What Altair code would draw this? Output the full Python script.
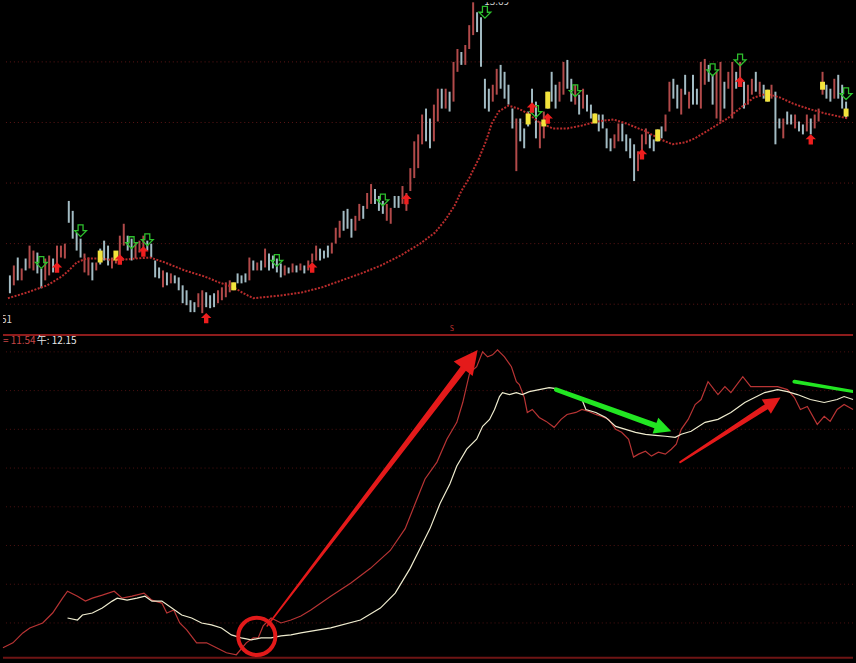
import math
import altair as alt
import pandas as pd

W = 856
TOP_H = 333
BOT_H = 330
N = 214

# ---------------- price panel ----------------
HIGH = [
    10.94, 11.04, 11.12, 11.01, 11.11, 11.24, 11.19, 11.17, 11.01, 11.11,
    11.14, 11.11, 11.24, 11.24, 11.26, 11.69, 11.59, 11.37, 11.31, 11.16,
    11.12, 11.07, 11.07, 11.21, 11.29, 11.24, 11.12, 11.17, 11.34, 11.46,
    11.34, 11.31, 11.27, 11.29, 11.34, 11.29, 11.26, 11.09, 11.02, 10.99,
    10.97, 10.96, 10.94, 10.92, 10.84, 10.79, 10.69, 10.67, 10.76, 10.79,
    10.77, 10.74, 10.76, 10.79, 10.82, 10.87, 10.89, 10.87, 10.96, 10.94,
    10.96, 11.12, 11.09, 11.07, 11.09, 11.21, 11.16, 11.14, 11.11, 11.06,
    11.04, 11.02, 11.06, 11.04, 11.06, 11.04, 11.09, 11.16, 11.24, 11.21,
    11.19, 11.24, 11.27, 11.42, 11.49, 11.59, 11.61, 11.51, 11.54, 11.66,
    11.64, 11.77, 11.86, 11.81, 11.74, 11.69, 11.66, 11.62, 11.74, 11.74,
    11.84, 11.77, 12.02, 12.29, 12.36, 12.56, 12.62, 12.52, 12.66, 12.82,
    12.82, 12.82, 12.79, 13.09, 13.22, 13.19, 13.26, 13.46, 13.69, 13.59,
    13.54, 12.92, 12.82, 12.86, 13.02, 13.06, 12.99, 12.86, 12.62, 12.52,
    12.52, 12.42, 12.59, 12.82, 12.69, 12.49, 12.59, 12.79, 12.99, 12.86,
    12.89, 13.09, 13.11, 12.92, 12.86, 12.76, 12.82, 12.76, 12.66, 12.57,
    12.56, 12.56, 12.42, 12.32, 12.36, 12.47, 12.47, 12.36, 12.32, 12.26,
    12.19, 12.36, 12.42, 12.36, 12.31, 12.41, 12.44, 12.56, 12.89, 12.92,
    12.86, 12.82, 12.96, 12.79, 12.96, 12.82, 13.09, 13.12, 13.06, 12.96,
    12.99, 13.09, 12.89, 12.99, 13.09, 12.99, 13.09, 12.89, 12.86, 12.92,
    12.99, 12.89, 12.86, 12.81, 12.86, 12.79, 12.52, 12.52, 12.59, 12.56,
    12.56, 12.49, 12.46, 12.56, 12.52, 12.56, 12.62, 12.99, 12.86, 12.82,
    12.92, 12.96, 12.86, 12.69,
]
LOW = [
    10.76, 10.84, 10.89, 10.89, 10.99, 11.01, 10.99, 10.96, 10.81, 10.89,
    10.94, 10.97, 11.06, 11.12, 11.11, 11.47, 11.31, 11.19, 11.12, 10.97,
    10.94, 10.89, 10.99, 11.05, 11.09, 11.04, 11.01, 11.06, 11.11, 11.24,
    11.19, 11.09, 11.11, 11.17, 11.19, 11.19, 11.12, 10.92, 10.91, 10.82,
    10.84, 10.86, 10.86, 10.79, 10.66, 10.64, 10.57, 10.57, 10.62, 10.56,
    10.62, 10.61, 10.62, 10.66, 10.69, 10.72, 10.77, 10.79, 10.86, 10.86,
    10.87, 10.89, 10.99, 10.99, 10.99, 11.02, 10.99, 11.01, 10.97, 10.92,
    10.94, 10.96, 10.97, 10.97, 10.99, 10.96, 10.99, 11.07, 11.09, 11.09,
    11.11, 11.12, 11.16, 11.26, 11.32, 11.39, 11.41, 11.32, 11.39, 11.49,
    11.51, 11.61, 11.66, 11.66, 11.59, 11.56, 11.49, 11.46, 11.62, 11.62,
    11.66, 11.59, 11.79, 11.92, 12.02, 12.26, 12.29, 12.22, 12.29, 12.49,
    12.62, 12.62, 12.59, 12.69, 12.99, 13.06, 13.06, 13.22, 13.36, 13.39,
    13.04, 12.62, 12.59, 12.69, 12.76, 12.82, 12.72, 12.66, 12.42, 11.99,
    12.29, 12.22, 12.44, 12.59, 12.32, 12.22, 12.32, 12.62, 12.69, 12.62,
    12.69, 12.76, 12.82, 12.69, 12.66, 12.56, 12.62, 12.59, 12.52, 12.49,
    12.39, 12.42, 12.22, 12.19, 12.22, 12.29, 12.29, 12.19, 12.12, 11.89,
    11.99, 12.12, 12.26, 12.22, 12.19, 12.29, 12.32, 12.39, 12.59, 12.72,
    12.62, 12.56, 12.76, 12.62, 12.66, 12.66, 12.62, 12.86, 12.89, 12.66,
    12.52, 12.49, 12.62, 12.82, 12.52, 12.82, 12.92, 12.62, 12.66, 12.76,
    12.79, 12.76, 12.72, 12.69, 12.72, 12.26, 12.42, 12.32, 12.46, 12.46,
    12.42, 12.39, 12.36, 12.39, 12.36, 12.42, 12.49, 12.76, 12.72, 12.69,
    12.72, 12.72, 12.62, 12.52,
]
# r = rising session, c = falling session
SIDE = (
    "crcrcrrccr" "rcrrrccccr" "rcrcccrrrr" "ccrrrccccr" "crccccccrr"
    "cccrrrrrcc" "crcrcrcccc" "rcrcrcrrrc" "ccrrrcccrr" "crrcccrrcc"
    "rrrrrrccrr" "crcrrcrrrc" "cccrrccccr" "cccccrrccc" "rrccrcrccc"
    "ccccrrcccc" "rrrccccrrc" "crcrccrrcc" "rrcrrcrcrr" "crccrccrcc"
    "rccrcrrrcc" "rccc"
)

# highlighted (yellow) bodies
YEL_IDX = [23, 27, 57, 132, 136, 137, 149, 165, 193, 207, 213]
YEL_TOP = [11.19, 11.19, 10.87, 12.57, 12.51, 12.79, 12.57, 12.41, 12.81, 12.89, 12.62]
YEL_BOT = [11.07, 11.09, 10.79, 12.46, 12.44, 12.62, 12.47, 12.29, 12.69, 12.81, 12.54]

# moving average (dotted)
MA_X = [-0.5, 4.5, 9.5, 13.25, 15, 17, 19.5, 23.25, 27, 32, 35.75, 39.5, 44.5,
        49.5, 53.25, 57, 59.5, 62, 64.5, 69.5, 74.5, 79.5, 84.5, 89.5, 94.5,
        99.5, 104.5, 108.25, 110.75, 113.25, 115, 117, 119.5, 121.25, 122.75,
        124.5, 127, 129.5, 132, 134.5, 138.25, 142, 145.75, 149.5, 153.75, 157,
        162, 165.75, 168.75, 172, 174.5, 178.25, 182.75, 186.5, 189.5, 192.75,
        196.25, 199.5, 203.25, 207.75, 213.5]
MA_P = [10.71, 10.77, 10.84, 10.93, 10.99, 11.07, 11.11, 11.11, 11.09, 11.11,
        11.12, 11.07, 10.99, 10.93, 10.87, 10.82, 10.76, 10.71, 10.72, 10.74,
        10.77, 10.82, 10.89, 10.96, 11.04, 11.14, 11.26, 11.37, 11.49, 11.64,
        11.79, 11.92, 12.12, 12.29, 12.47, 12.59, 12.65, 12.62, 12.57, 12.49,
        12.42, 12.42, 12.45, 12.49, 12.51, 12.47, 12.39, 12.31, 12.26, 12.28,
        12.32, 12.41, 12.52, 12.64, 12.73, 12.77, 12.73, 12.67, 12.62, 12.57,
        12.52]

# signal markers
DOWN_IDX = [8, 18, 31, 35, 68, 95, 121, 134, 144, 179, 186, 213]
DOWN_P = [11.07, 11.39, 11.27, 11.30, 11.09, 11.70, 13.59, 12.59, 12.80, 13.01, 13.11, 12.77]
UP_IDX = [12, 28, 34, 50, 77, 101, 133, 137, 161, 186, 204]
UP_P = [11.02, 11.10, 11.18, 10.51, 11.02, 11.71, 12.63, 12.52, 12.16, 12.89, 12.31]

PRICE_GRID = [13.09, 12.48, 11.87, 11.26, 10.65]
LOW_LEVEL = 10.51

# ---------------- indicator panel ----------------
RED_X = [-0.5, 2, 4.5, 6.25, 9.5, 12, 14.5, 15.75, 18.25, 20.25, 22, 24.5, 27.5,
         29.5, 32, 35, 37, 39.5, 40.75, 42.5, 44, 45.75, 48.25, 50.75, 53.25,
         55.75, 58.25, 60.75, 62.5, 63.75, 65, 67, 69.5, 72, 74.5, 77, 82, 87,
         92, 97, 100.75, 103.25, 105.75, 108.75, 111.25, 113.75, 115.25, 117,
         118.75, 120.25, 121.5, 122.75, 124, 125.75, 127.5, 128.75, 129.5,
         130.75, 131.5, 132.75, 134.5, 136.25, 138.25, 140, 141.5, 143.75,
         145.25, 147, 148.75, 150.25, 152, 153.75, 155.25, 157, 158.25, 159.5,
         161.25, 162.75, 164.5, 166.25, 167.75, 169, 170.25, 172, 173.75,
         175.25, 177, 179.5, 181.25, 182.75, 185.75, 187.75, 191.25, 194.5,
         197, 198.75, 200.25, 202, 204.5, 206.25, 207.75, 209.5, 211.25, 213.5]
RED_V = [1.3, 1.8, 2.8, 3.3, 3.8, 4.8, 6.3, 7.0, 6.5, 6.0, 6.3, 6.6, 7.0,
         6.3, 6.5, 6.8, 6.1, 5.8, 4.8, 5.1, 3.8, 3.1, 1.8, 1.8, 1.3,
         0.8, 0.6, 1.8, 2.3, 2.3, 3.5, 4.3, 3.8, 4.1, 4.5, 5.1, 6.5, 7.8,
         9.3, 11.1, 13.3, 15.8, 18.3, 20.0, 22.3, 24.0, 26.0, 29.0,
         29.6, 31.1, 30.6, 30.8, 31.3, 30.6, 29.6, 28.1, 27.8,
         26.5, 25.0, 25.3, 24.5, 24.1, 23.5, 24.3, 24.8, 25.0,
         25.3, 25.1, 24.8, 24.6, 24.3, 23.3, 23.0, 22.3, 20.5, 20.8,
         21.1, 20.6, 21.0, 20.8, 21.3, 21.8, 23.3, 24.3, 25.8,
         26.3, 28.1, 26.8, 27.6, 27.0, 28.6, 27.6, 27.6, 27.6,
         27.3, 26.5, 25.3, 25.6, 23.8, 24.6, 24.1, 25.3, 25.8, 25.3]
WHT_X = [15.75, 18.25, 19.5, 22, 24.5, 27, 28.25, 30.75, 33.25, 35.25, 37, 39.5,
         42, 44.5, 47, 49.5, 52, 54.5, 57, 59.5, 62, 64.5, 67, 69.5, 72, 74.5,
         82, 89.5, 94.5, 98.25, 102, 104.5, 107, 109.5, 112, 113.75, 116.25,
         118.75, 120.25, 122, 123.25, 124.5, 125.25, 127, 128.75, 130.25, 132,
         134.5, 137, 138.75, 141.25, 143.75, 145.25, 146.25, 148.75, 151.25,
         153.75, 156.25, 158.75, 161.25, 163.75, 166.25, 168.75, 170.25,
         172.75, 176.25, 179.5, 182.75, 186.25, 188.75, 191.25, 194.5, 197,
         199.5, 202.75, 206.25, 209.5, 211.25, 213.5]
WHT_V = [4.3, 4.1, 4.6, 4.8, 5.3, 6.0, 6.3, 6.1, 6.3, 6.5, 6.0, 6.0,
         5.3, 4.6, 4.3, 3.8, 3.6, 3.3, 2.6, 2.3, 2.1, 2.3, 2.3, 2.5, 2.6, 2.8,
         3.3, 4.1, 5.3, 6.8, 9.3, 11.3, 13.3, 15.8, 17.8, 19.6, 21.3,
         22.3, 23.6, 24.3, 25.3, 26.6, 27.0, 26.8, 27.0, 26.8, 27.1,
         27.3, 27.5, 27.4, 27.0, 26.5, 26.3, 25.3, 25.0, 24.5,
         23.6, 23.3, 23.0, 22.8, 22.7, 22.6, 22.5, 22.8,
         23.1, 24.0, 24.3, 25.0, 26.0, 26.5, 27.0, 27.3, 27.1,
         26.8, 26.3, 26.0, 26.3, 26.6, 26.3]
IND_GRID = [31.1, 27.2, 23.3, 19.4, 15.5, 11.6, 7.7, 3.8]

# hand-drawn arrows (start -> tip), widths in px, head length in px
ARROW_ID = ["a1", "a2", "a3", "a4"]
ARROW_X0 = [66.0, 138.75, 170.0, 198.75]
ARROW_V0 = [3.5, 27.3, 20.0, 28.1]
ARROW_X1 = [119.0, 167.75, 195.25, 213.5]
ARROW_V1 = [31.3, 23.1, 26.5, 27.1]
ARROW_W0 = [1.5, 4.5, 2.0, 4.0]
ARROW_W1 = [7.0, 6.0, 6.0, 3.0]
ARROW_HEAD = [24, 17, 17, 0]
ARROW_COLOR = ["#e41a1a", "#22e622", "#e41a1a", "#22e622"]
CIRCLE_X = [63.4]
CIRCLE_V = [2.45]

# ---------------- helpers ----------------
xs = alt.Scale(domain=[-0.5, N - 0.5], nice=False, zero=False)
ps = alt.Scale(domain=[10.36, 13.69], nice=False, zero=False)
vs = alt.Scale(domain=[0, 33], nice=False, zero=False)
FONT = "Noto Sans CJK SC"

DOWN_PATH = "M-0.42,-1L0.42,-1L0.42,0L1,0L0,1L-1,0L-0.42,0Z"
UP_PATH = "M-0.42,1L0.42,1L0.42,0L1,0L0,-1L-1,0L-0.42,0Z"
HEAD_PATH = "M0,-1L0.75,0.5L-0.75,0.5Z"


def X(field):
    return alt.X(field, type="quantitative", scale=xs, axis=None)


def P(field):
    return alt.Y(field, type="quantitative", scale=ps, axis=None)


def V(field):
    return alt.Y(field, type="quantitative", scale=vs, axis=None)


candles = pd.DataFrame({"idx": range(N), "high": HIGH, "low": LOW, "side": list(SIDE)})
yellow = pd.DataFrame({"idx": YEL_IDX, "top": YEL_TOP, "bot": YEL_BOT})
ma = pd.DataFrame({"idx": MA_X, "p": MA_P})
downs = pd.DataFrame({"idx": DOWN_IDX, "p": DOWN_P})
ups = pd.DataFrame({"idx": UP_IDX, "p": UP_P})
pgrid = pd.DataFrame({"p": PRICE_GRID})

top_layers = [
    alt.Chart(pgrid).mark_rule(color="#5e1616", strokeDash=[1, 3], strokeWidth=1).encode(y=P("p")),
    alt.Chart(candles).mark_bar(size=2).encode(
        x=X("idx"), y=P("low"), y2="high",
        color=alt.Color("side:N", scale=alt.Scale(domain=["r", "c"], range=["#b24a4a", "#a3bcc4"]), legend=None),
    ),
    alt.Chart(ma).mark_line(color="#b82c2c", strokeWidth=2, strokeDash=[2, 1.5]).encode(x=X("idx"), y=P("p")),
    alt.Chart(yellow).mark_bar(size=5, color="#f3e43c").encode(x=X("idx"), y=P("bot"), y2="top"),
    alt.Chart(downs).mark_point(shape=DOWN_PATH, filled=False, color="#2ec02e", strokeWidth=1.3, size=140, opacity=1).encode(
        x=X("idx"), y=P("p")),
    alt.Chart(ups).mark_point(shape=UP_PATH, filled=True, color="#ee1e1e", size=110, opacity=1).encode(
        x=X("idx"), y=P("p")),
    alt.Chart(pd.DataFrame({"idx": [124], "p": [max(HIGH)], "t": [f"{max(HIGH):.2f}"]})).mark_text(
        clip=True, align="center", baseline="bottom", dy=5, fontSize=10, color="#d8d8d8", font=FONT
    ).encode(x=X("idx"), y=P("p"), text="t:N"),
    alt.Chart(pd.DataFrame({"p": [LOW_LEVEL], "t": [f"{LOW_LEVEL:.2f}"]})).mark_text(
        clip=True, align="right", baseline="middle", dy=2, fontSize=10, color="#d8d8d8", font=FONT
    ).encode(x=alt.value(9), y=P("p"), text="t:N"),
    alt.Chart(pd.DataFrame({"p": [10.37]})).mark_text(
        text="S", fontSize=7, color="#c03030", baseline="bottom", font=FONT
    ).encode(x=alt.value(452), y=P("p")),
]
top = alt.layer(*top_layers).properties(width=W, height=TOP_H)

# arrow geometry in pixel space (for head orientation)
PX_X = W / N
PX_V = BOT_H / 33.0
trail_rows, head_rows = [], []
for aid, x0, v0, x1, v1, w0, w1, hl, col in zip(
        ARROW_ID, ARROW_X0, ARROW_V0, ARROW_X1, ARROW_V1, ARROW_W0, ARROW_W1, ARROW_HEAD, ARROW_COLOR):
    dx = (x1 - x0) * PX_X
    dy = -(v1 - v0) * PX_V
    ln = math.hypot(dx, dy)
    ux, uy = dx / ln, dy / ln
    u = hl / 1.5
    xe = x1 - ux * u / PX_X
    ve = v1 + uy * u / PX_V
    trail_rows.append({"id": aid, "k": 0, "x": x0, "v": v0, "w": w0, "col": col})
    trail_rows.append({"id": aid, "k": 1, "x": xe, "v": ve, "w": w1, "col": col})
    if hl > 0:
        head_rows.append({"x": xe, "v": ve, "s": (2 * u) ** 2,
                          "ang": math.degrees(math.atan2(ux, -uy)) % 360, "col": col})

trails = pd.DataFrame(trail_rows)
heads = pd.DataFrame(head_rows)
red = pd.DataFrame({"x": RED_X, "v": RED_V})
wht = pd.DataFrame({"x": WHT_X, "v": WHT_V})
igrid = pd.DataFrame({"v": IND_GRID})
circle = pd.DataFrame({"x": CIRCLE_X, "v": CIRCLE_V})

bottom_layers = [
    alt.Chart(igrid).mark_rule(color="#4e1212", strokeDash=[1, 3], strokeWidth=1).encode(y=V("v")),
    alt.Chart(pd.DataFrame({"v": [32.8]})).mark_rule(color="#8e1c1c", strokeWidth=2).encode(y=V("v")),
    alt.Chart(pd.DataFrame({"v": [0.3]})).mark_rule(color="#6e1414", strokeWidth=2).encode(y=V("v")),
    alt.Chart(red).mark_line(color="#b83434", strokeWidth=1.2).encode(x=X("x"), y=V("v")),
    alt.Chart(wht).mark_line(color="#efeccf", strokeWidth=1.2).encode(x=X("x"), y=V("v")),
    alt.Chart(trails).mark_trail(clip=True).encode(
        x=X("x"), y=V("v"), order="k:Q", detail="id:N",
        size=alt.Size("w:Q", scale=None), color=alt.Color("col:N", scale=None)),
    alt.Chart(heads).mark_point(shape=HEAD_PATH, filled=True, opacity=1, strokeWidth=0).encode(
        x=X("x"), y=V("v"), size=alt.Size("s:Q", scale=None),
        angle=alt.Angle("ang:Q", scale=None), color=alt.Color("col:N", scale=None)),
    alt.Chart(circle).mark_point(shape="circle", filled=False, size=1400, strokeWidth=4,
                                 color="#e21a1a", opacity=1).encode(x=X("x"), y=V("v")),
    alt.Chart(pd.DataFrame({"a": [0]})).mark_text(
        text="= 11.54", align="left", baseline="middle", fontSize=10, color="#c84646", font=FONT
    ).encode(x=alt.value(0), y=alt.value(8)),
    alt.Chart(pd.DataFrame({"a": [0]})).mark_text(
        text="午: 12.15", align="left", baseline="middle", fontSize=10, color="#e8e8e8", font=FONT
    ).encode(x=alt.value(34), y=alt.value(8)),
]
bottom = alt.layer(*bottom_layers).properties(width=W, height=BOT_H)

chart = (
    alt.vconcat(top, bottom, spacing=0)
    .properties(background="black", padding=0)
    .configure_view(stroke=None)
    .configure_concat(spacing=0)
)

chart.save("out.html", embed_options={"renderer": "svg", "actions": False})
